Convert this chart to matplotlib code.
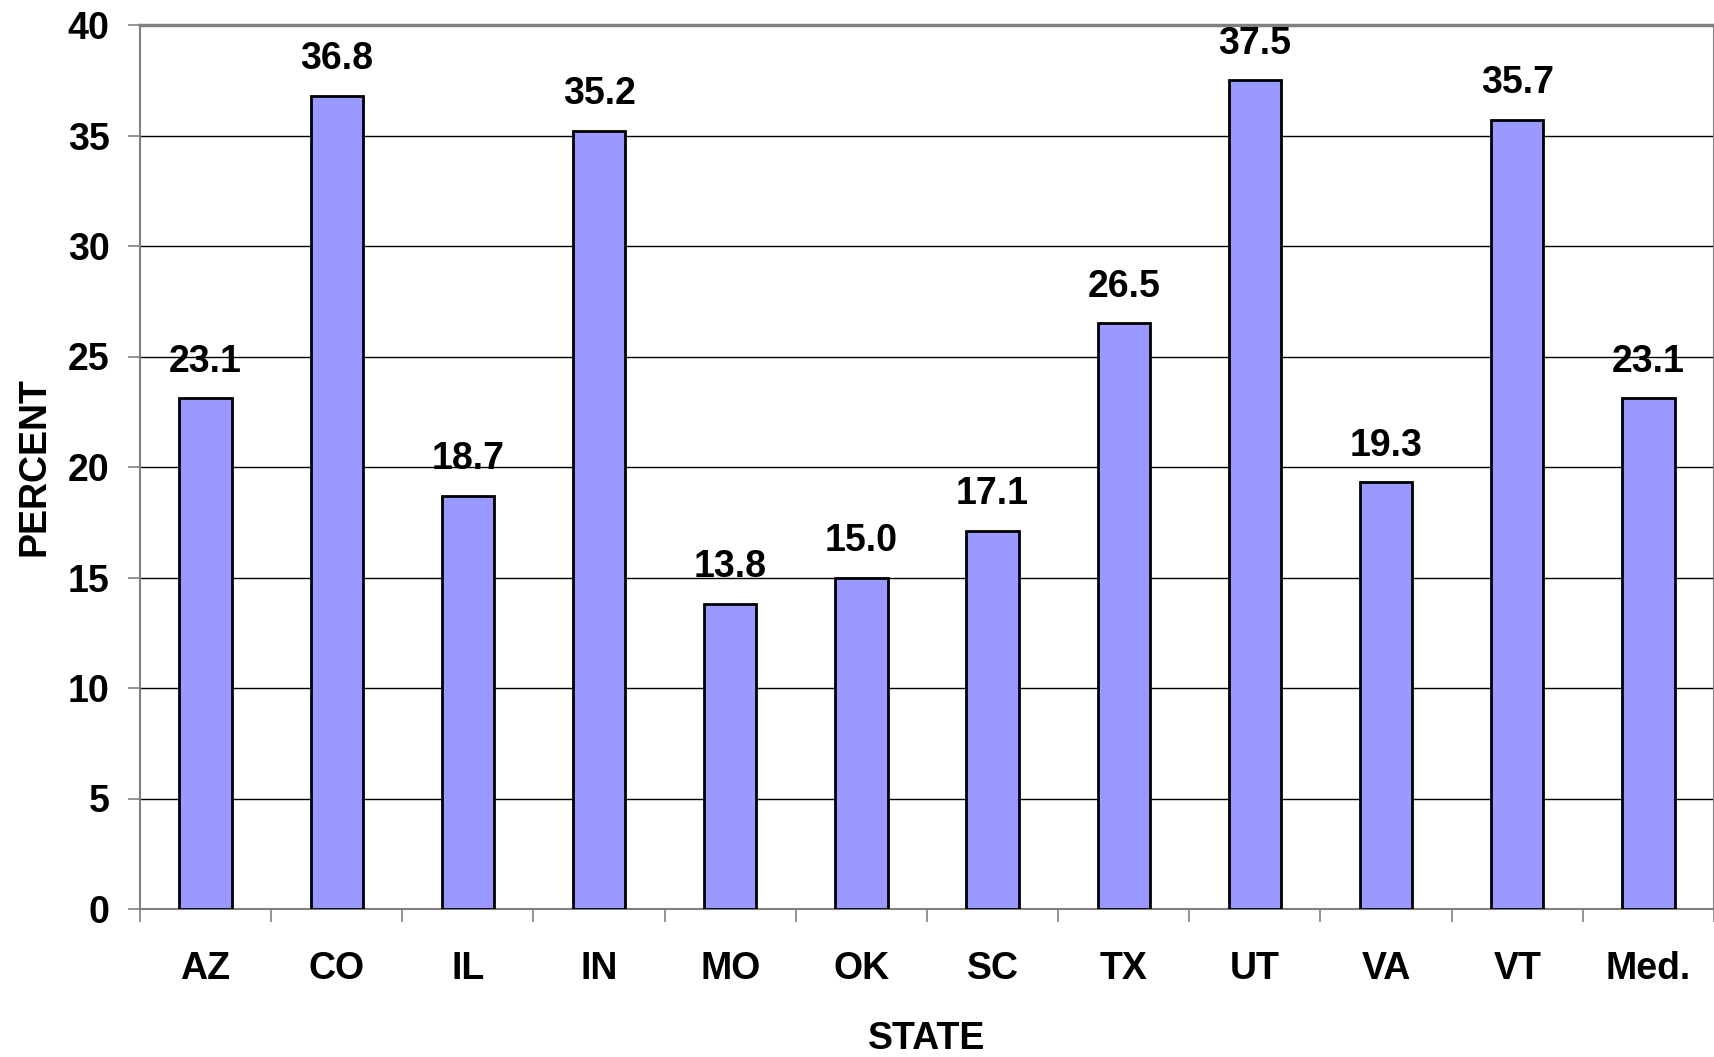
import matplotlib
matplotlib.use("Agg")
import matplotlib.pyplot as plt
import numpy as np

states = ["AZ", "CO", "IL", "IN", "MO", "OK", "SC", "TX", "UT", "VA", "VT", "Med."]
values = [23.1, 36.8, 18.7, 35.2, 13.8, 15.0, 17.1, 26.5, 37.5, 19.3, 35.7, 23.1]
yticks = [0, 5, 10, 15, 20, 25, 30, 35, 40]

plt.rcParams['font.family'] = ['Liberation Sans', 'DejaVu Sans']
plt.rcParams['font.weight'] = 'bold'
FS = 27

fig = plt.figure(figsize=(17.15, 10.57), dpi=100)
ax = fig.add_axes([140/1715, 1 - 909/1057, (1714 - 140)/1715, (909 - 25)/1057])

x = np.arange(len(states))
ax.bar(x, values, width=0.4, color="#9999FF", edgecolor="black", linewidth=2, zorder=3)

for xi, v in zip(x, values):
    ax.annotate(f"{v:.1f}", (xi, v), xytext=(0, 13.5), textcoords="offset points",
                ha="center", va="bottom", fontsize=FS, fontweight="bold")

ax.set_xlim(-0.5, len(states) - 0.5)
ax.set_ylim(0, 40)
ax.set_yticks(yticks)
ax.set_yticklabels([str(t) for t in yticks])
ax.yaxis.grid(True, color="black", linewidth=1)
ax.set_axisbelow(True)

ax.set_xticks(x)
ax.set_xticklabels(states)
ax.tick_params(axis="x", which="major", length=0, pad=30, labelsize=FS)
ax.set_xticks(np.arange(-0.5, len(states)), minor=True)
ax.tick_params(axis="x", which="minor", length=9.5, width=1.2, color="#808080", direction="out")
ax.tick_params(axis="y", length=9, width=1.2, color="#808080", pad=13, labelsize=FS)

for s in ax.spines.values():
    s.set_color("#808080")
    s.set_linewidth(1.5)
ax.spines["top"].set_linewidth(2.5)

ax.set_xlabel("STATE", fontsize=FS, fontweight="bold", labelpad=24.5)
ax.set_ylabel("PERCENT", fontsize=FS, fontweight="bold", labelpad=11)

fig.savefig("out.png", dpi=100)
